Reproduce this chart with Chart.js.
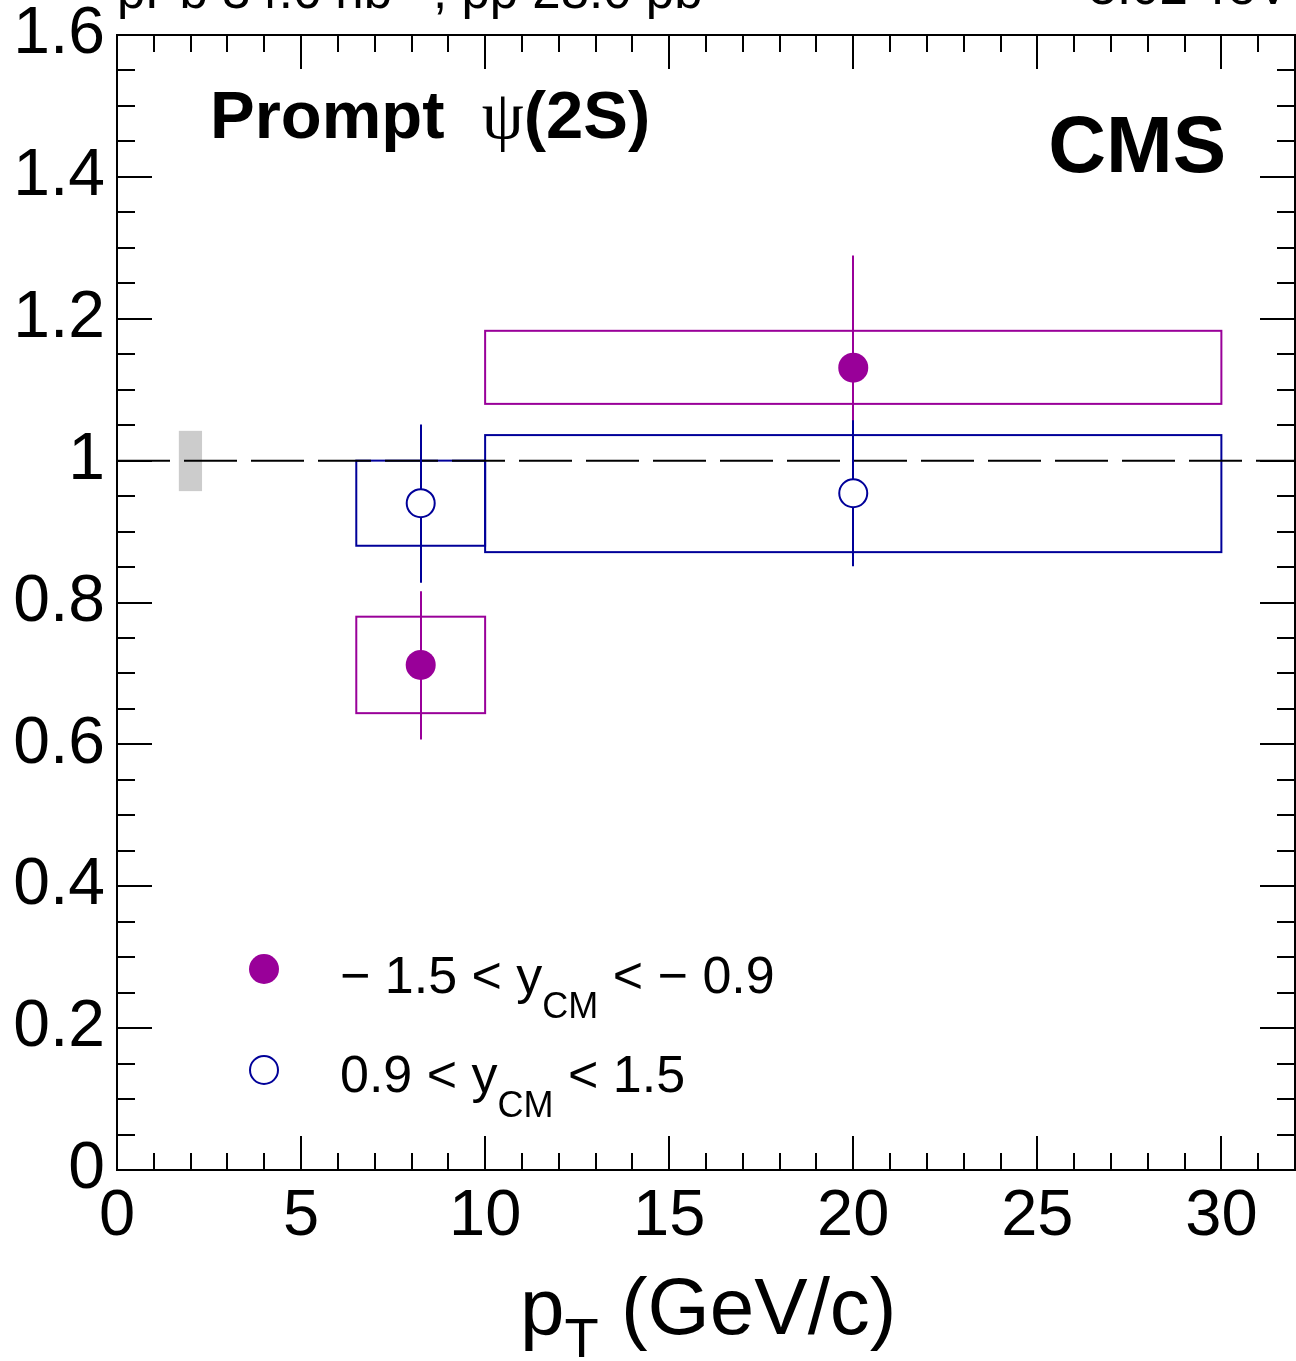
<!DOCTYPE html>
<html>
<head>
<meta charset="utf-8">
<script src="https://cdn.jsdelivr.net/npm/chart.js@4.4.0/dist/chart.umd.min.js"></script>
<style>
html, body { margin: 0; padding: 0; background: #fff; overflow: hidden; }
canvas { display: block; }
</style>
</head>
<body>
<canvas id="chart" width="1296" height="1361"></canvas>
<script>
// axis ticks
const xTicks = [0, 5, 10, 15, 20, 25, 30];
const yTicks = [0, 0.2, 0.4, 0.6, 0.8, 1, 1.2, 1.4, 1.6];
const xMinorStep = 1;
const yMinorStep = 0.05;

// -1.5 < y_CM < -0.9 (filled markers)
const bwdPt = [8.25, 20];
const bwdVal = [0.712, 1.131];
const bwdStatLo = [0.607, 0.972];
const bwdStatHi = [0.816, 1.289];
const bwdBinLo = [6.5, 10];
const bwdBinHi = [10, 30];
const bwdSystLo = [0.644, 1.080];
const bwdSystHi = [0.780, 1.183];

// 0.9 < y_CM < 1.5 (open markers)
const fwdPt = [8.25, 20];
const fwdVal = [0.940, 0.954];
const fwdStatLo = [0.828, 0.851];
const fwdStatHi = [1.051, 1.057];
const fwdBinLo = [6.5, 10];
const fwdBinHi = [10, 30];
const fwdSystLo = [0.880, 0.871];
const fwdSystHi = [1.000, 1.036];

// global uncertainty band at unity
const globX = [1.68, 2.31];
const globY = [0.957, 1.042];

// reference line
const refX = [0, 32];
const refY = [1, 1];

const purple = '#990099';
const blue = '#000099';
const sans = '"Liberation Sans", Arial, sans-serif';

function pts(xs, ys) {
    return xs.map((x, i) => ({ x: x, y: ys[i] }));
}

function drawBoxes(ctx, xs, ys, lo, hi, ylo, yhi, color) {
    ctx.save();
    ctx.strokeStyle = color;
    ctx.lineWidth = 2;
    lo.forEach((_, i) => {
        const x1 = xs.getPixelForValue(lo[i]);
        const x2 = xs.getPixelForValue(hi[i]);
        const y1 = ys.getPixelForValue(yhi[i]);
        const y2 = ys.getPixelForValue(ylo[i]);
        ctx.strokeRect(x1, y1, x2 - x1, y2 - y1);
    });
    ctx.restore();
}

function drawErrors(ctx, xs, ys, px, lo, hi, color) {
    ctx.save();
    ctx.strokeStyle = color;
    ctx.lineWidth = 2;
    px.forEach((_, i) => {
        const x = Math.round(xs.getPixelForValue(px[i]));
        ctx.beginPath();
        ctx.moveTo(x, ys.getPixelForValue(lo[i]));
        ctx.lineTo(x, ys.getPixelForValue(hi[i]));
        ctx.stroke();
    });
    ctx.restore();
}

// text made of pieces, some shifted as sub/superscripts
function drawRich(ctx, x, y, parts) {
    parts.forEach(p => {
        ctx.font = p.font;
        ctx.fillText(p.text, x, y + (p.dy || 0));
        x += ctx.measureText(p.text).width;
    });
}

const decor = {
    id: 'decor',
    beforeDatasetsDraw(chart) {
        const { ctx, scales: { x, y } } = chart;
        ctx.save();
        ctx.fillStyle = '#cccccc';
        const gx1 = x.getPixelForValue(globX[0]);
        const gx2 = x.getPixelForValue(globX[1]);
        const gy1 = y.getPixelForValue(globY[1]);
        const gy2 = y.getPixelForValue(globY[0]);
        ctx.fillRect(gx1, gy1, gx2 - gx1, gy2 - gy1);
        ctx.restore();
        drawBoxes(ctx, x, y, bwdBinLo, bwdBinHi, bwdSystLo, bwdSystHi, purple);
        drawBoxes(ctx, x, y, fwdBinLo, fwdBinHi, fwdSystLo, fwdSystHi, blue);
    },
    afterDatasetDraw(chart, args) {
        if (args.index !== 2) return;
        const { ctx, scales: { x, y } } = chart;
        drawErrors(ctx, x, y, bwdPt, bwdStatLo, bwdStatHi, purple);
        drawErrors(ctx, x, y, fwdPt, fwdStatLo, fwdStatHi, blue);
    },
    afterDraw(chart) {
        const { ctx, chartArea: a, scales: { x, y } } = chart;
        ctx.save();
        ctx.strokeStyle = '#000';
        ctx.lineWidth = 2;
        ctx.strokeRect(a.left, a.top, a.right - a.left, a.bottom - a.top);

        ctx.beginPath();
        for (let v = x.min; v <= x.max + 1e-9; v += xMinorStep) {
            const px = Math.round(x.getPixelForValue(v));
            const len = xTicks.includes(v) ? 34 : 17;
            ctx.moveTo(px, a.bottom); ctx.lineTo(px, a.bottom - len);
            ctx.moveTo(px, a.top); ctx.lineTo(px, a.top + len);
        }
        for (let k = 0; k * yMinorStep <= y.max + 1e-9; k++) {
            const py = Math.round(y.getPixelForValue(k * yMinorStep));
            const len = k % 4 === 0 ? 35 : 18;
            ctx.moveTo(a.left, py); ctx.lineTo(a.left + len, py);
            ctx.moveTo(a.right, py); ctx.lineTo(a.right - len, py);
        }
        ctx.stroke();

        ctx.fillStyle = '#000';
        ctx.textBaseline = 'alphabetic';

        // lumi line, mostly cut off at the top
        ctx.textAlign = 'left';
        drawRich(ctx, 117, 8, [
            { text: 'pPb 34.6 nb', font: '51px ' + sans },
            { text: '\u22121', font: '36px ' + sans, dy: -22 },
            { text: ', pp 28.0 pb', font: '51px ' + sans },
            { text: '\u22121', font: '36px ' + sans, dy: -22 }
        ]);
        ctx.textAlign = 'right';
        ctx.font = '51px ' + sans;
        ctx.fillText('5.02 TeV', 1290, 4);

        // labels inside the frame
        ctx.textAlign = 'left';
        drawRich(ctx, 210, 138, [
            { text: 'Prompt  ', font: 'bold 67px ' + sans },
            { text: '\u03C8', font: '67px "Liberation Serif", serif' },
            { text: '(2S)', font: 'bold 67px ' + sans }
        ]);
        ctx.textAlign = 'right';
        ctx.font = 'bold 80px ' + sans;
        ctx.fillText('CMS', 1226, 172);

        // axis title
        ctx.textAlign = 'left';
        drawRich(ctx, 520, 1334, [
            { text: 'p', font: '80px ' + sans },
            { text: 'T', font: '56px ' + sans, dy: 23 },
            { text: ' (GeV/c)', font: '80px ' + sans }
        ]);

        // legend
        ctx.fillStyle = purple;
        ctx.beginPath();
        ctx.arc(264, 969, 15, 0, Math.PI * 2);
        ctx.fill();
        ctx.strokeStyle = blue;
        ctx.lineWidth = 2;
        ctx.beginPath();
        ctx.arc(264, 1070, 14, 0, Math.PI * 2);
        ctx.stroke();

        ctx.fillStyle = '#000';
        drawRich(ctx, 340, 993, [
            { text: '\u2212 1.5 < y', font: '52px ' + sans },
            { text: 'CM', font: '36px ' + sans, dy: 25 },
            { text: ' < \u2212 0.9', font: '52px ' + sans }
        ]);
        drawRich(ctx, 340, 1092, [
            { text: '0.9 < y', font: '52px ' + sans },
            { text: 'CM', font: '36px ' + sans, dy: 25 },
            { text: ' < 1.5', font: '52px ' + sans }
        ]);
        ctx.restore();
    }
};

new Chart(document.getElementById('chart').getContext('2d'), {
    type: 'scatter',
    data: {
        datasets: [{
            label: '0.9 < yCM < 1.5',
            data: pts(fwdPt, fwdVal),
            pointRadius: 14,
            pointBorderWidth: 2,
            pointBackgroundColor: '#ffffff',
            pointBorderColor: blue
        }, {
            label: '-1.5 < yCM < -0.9',
            data: pts(bwdPt, bwdVal),
            pointRadius: 15,
            pointBorderWidth: 0,
            pointBackgroundColor: purple,
            pointBorderColor: purple
        }, {
            label: 'unity',
            data: pts(refX, refY),
            showLine: true,
            borderColor: '#000',
            borderWidth: 2,
            borderDash: [53, 14],
            pointRadius: 0
        }]
    },
    options: {
        responsive: false,
        animation: false,
        devicePixelRatio: 1,
        events: [],
        layout: { autoPadding: false, padding: { top: 35, right: 1, left: 0, bottom: 0 } },
        plugins: {
            legend: { display: false },
            tooltip: { enabled: false }
        },
        scales: {
            x: {
                type: 'linear',
                min: 0,
                max: 32,
                afterBuildTicks: s => { s.ticks = xTicks.map(v => ({ value: v })); },
                afterFit: s => { s.height = 191; s.paddingLeft = 0; s.paddingRight = 0; },
                grid: { display: false, drawTicks: false },
                border: { display: false },
                ticks: {
                    font: { family: sans, size: 65 },
                    color: '#000',
                    padding: 8,
                    maxRotation: 0,
                    autoSkip: false,
                    callback: v => String(v)
                }
            },
            y: {
                type: 'linear',
                min: 0,
                max: 1.6,
                afterBuildTicks: s => { s.ticks = yTicks.map(v => ({ value: v })); },
                afterFit: s => { s.width = 117; s.paddingTop = 0; s.paddingBottom = 0; },
                grid: { display: false, drawTicks: false },
                border: { display: false },
                ticks: {
                    font: { family: sans, size: 66 },
                    color: '#000',
                    padding: 12,
                    autoSkip: false,
                    callback: v => String(v)
                }
            }
        }
    },
    plugins: [decor]
});
</script>
</body>
</html>
